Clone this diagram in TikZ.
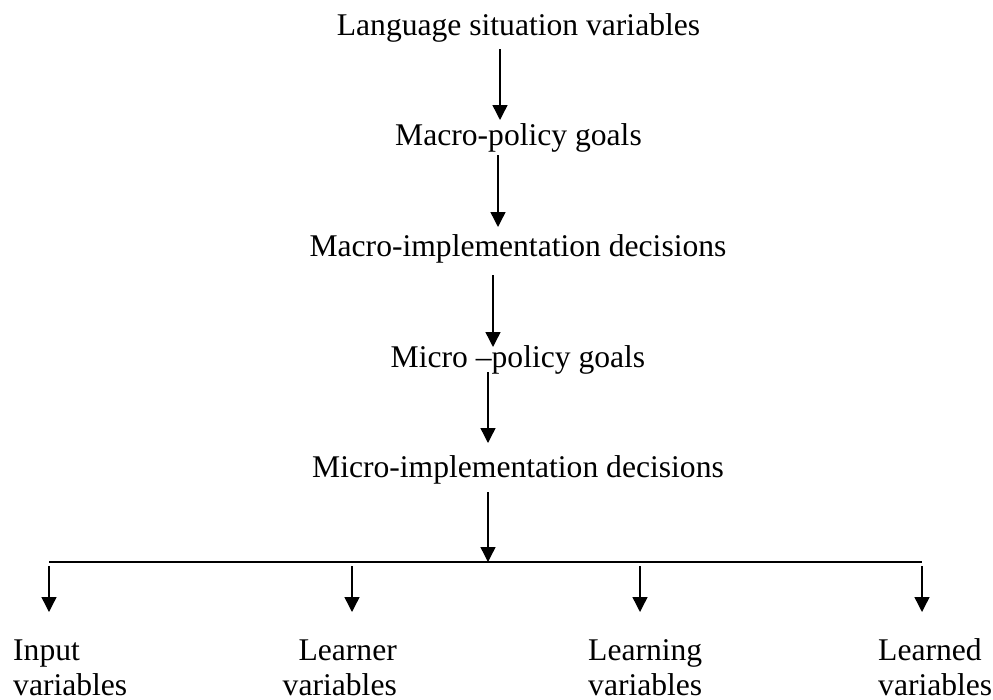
\documentclass[tikz,border=0pt]{standalone}
\usepackage{fontspec}
\setmainfont{Liberation Serif}
\usetikzlibrary{arrows.meta}

\begin{document}
\begin{tikzpicture}[x=1pt, y=-1pt, >={Triangle[width=15pt,length=15pt]},
  txt/.style={inner sep=0pt, anchor=base, font=\fontsize{31.6}{35}\selectfont},
  flow/.style={->, line width=1.4pt},
  drop/.style={->, line width=1.4pt, shorten <=4pt}]
\useasboundingbox (0,0) rectangle (993,699);

% chain of levels
\node[txt] (lsv) at (518.5,35) {Language situation variables};
\node[txt] (mpg) at (518.5,145) {Macro-policy goals};
\node[txt] (mad) at (518,256) {Macro-implementation decisions};
\node[txt] (ipg) at (518,367) {Micro --policy goals};
\node[txt] (iad) at (518,477) {Micro-implementation decisions};

\draw[flow] ([xshift=-18.5pt,yshift=-14pt]lsv.base) -- ([xshift=-18.5pt,yshift=25pt]mpg.base);
\draw[flow] ([xshift=-20.5pt,yshift=-10pt]mpg.base) -- ([xshift=-20pt,yshift=29pt]mad.base);
\draw[flow] ([xshift=-25pt,yshift=-19pt]mad.base) -- ([xshift=-25pt,yshift=20pt]ipg.base);
\draw[flow] ([xshift=-30pt,yshift=-5pt]ipg.base) -- ([xshift=-30pt,yshift=34pt]iad.base);

% bar
\coordinate (hub) at (488,562);
\coordinate (d1) at (49,562);
\coordinate (d2) at (352,562);
\coordinate (d3) at (640,562);
\coordinate (d4) at (922,562);
\draw[line width=2.4pt] (d1) -- (d4);
\draw[flow] ([yshift=-15pt]iad.base -| hub) -- (hub);

% variables
\node[txt, align=left, anchor=base west] (inp) at (13,695) {Input\\variables};
\node[txt, align=right, anchor=base east] (lnr) at (397,695) {Learner\\variables};
\node[txt, align=left, anchor=base west] (lng) at (588,695) {Learning\\variables};
\node[txt, align=left, anchor=base west] (lnd) at (878,695) {Learned\\variables};

\draw[drop] (d1) -- ([yshift=83pt]d1 |- inp.base);
\draw[drop] (d2) -- ([yshift=83pt]d2 |- lnr.base);
\draw[drop] (d3) -- ([yshift=83pt]d3 |- lng.base);
\draw[drop] (d4) -- ([yshift=83pt]d4 |- lnd.base);

\end{tikzpicture}
\end{document}
